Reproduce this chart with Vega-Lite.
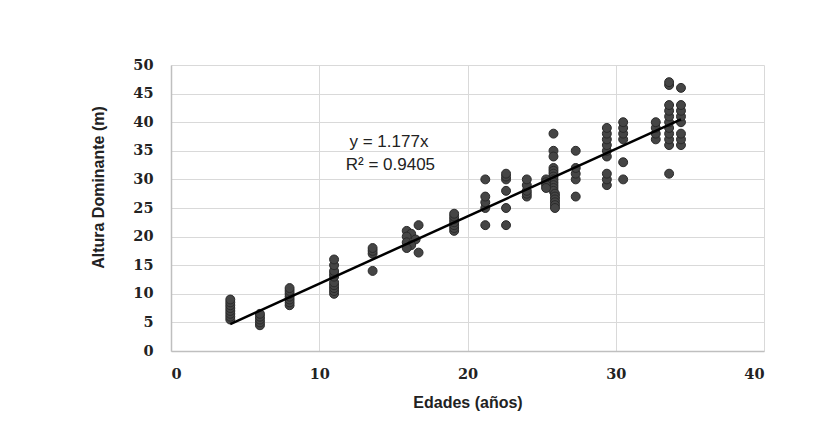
{
  "$schema": "https://vega.github.io/schema/vega-lite/v6.json",
  "autosize": {"type": "none"},
  "padding": {"left": 171, "top": 65, "right": 75, "bottom": 90},
  "width": 593,
  "height": 286,
  "background": "white",
  "config": {
    "view": {"stroke": null},
    "axis": {
      "gridColor": "#d9d9d9",
      "gridWidth": 1,
      "domainColor": "#bfbfbf",
      "domainWidth": 1.5,
      "ticks": false,
      "labelFont": "DejaVu Serif",
      "labelFontWeight": "bold",
      "labelFontSize": 14.5,
      "labelColor": "#222222",
      "labelOverlap": false,
      "titleFont": "Liberation Sans",
      "titleFontWeight": "bold",
      "titleFontSize": 16,
      "titleColor": "#222222"
    }
  },
  "datasets": {
    "pts": [
      {"edad": 4, "altura": 5.5}, {"edad": 4, "altura": 6}, {"edad": 4, "altura": 6.5}, {"edad": 4, "altura": 7}, {"edad": 4, "altura": 7.5}, {"edad": 4, "altura": 8}, {"edad": 4, "altura": 8.5}, {"edad": 4, "altura": 9},
      {"edad": 6, "altura": 4.5}, {"edad": 6, "altura": 5}, {"edad": 6, "altura": 5.5}, {"edad": 6, "altura": 6}, {"edad": 6, "altura": 6.5},
      {"edad": 8, "altura": 8}, {"edad": 8, "altura": 8.5}, {"edad": 8, "altura": 9}, {"edad": 8, "altura": 9.5}, {"edad": 8, "altura": 10}, {"edad": 8, "altura": 10.5}, {"edad": 8, "altura": 11},
      {"edad": 11, "altura": 10}, {"edad": 11, "altura": 10.5}, {"edad": 11, "altura": 11}, {"edad": 11, "altura": 11.5}, {"edad": 11, "altura": 12}, {"edad": 11, "altura": 13}, {"edad": 11, "altura": 13.5}, {"edad": 11, "altura": 14}, {"edad": 11, "altura": 15}, {"edad": 11, "altura": 16},
      {"edad": 13.6, "altura": 14}, {"edad": 13.6, "altura": 17}, {"edad": 13.6, "altura": 17.5}, {"edad": 13.6, "altura": 18},
      {"edad": 15.9, "altura": 21}, {"edad": 16.7, "altura": 22}, {"edad": 16.2, "altura": 20.5}, {"edad": 15.9, "altura": 20}, {"edad": 16.5, "altura": 19.5}, {"edad": 15.9, "altura": 19}, {"edad": 16.2, "altura": 18.5}, {"edad": 15.9, "altura": 18}, {"edad": 16.7, "altura": 17.2},
      {"edad": 19.1, "altura": 21}, {"edad": 19.1, "altura": 21.5}, {"edad": 19.1, "altura": 22}, {"edad": 19.1, "altura": 22.5}, {"edad": 19.1, "altura": 23}, {"edad": 19.1, "altura": 23.5}, {"edad": 19.1, "altura": 24},
      {"edad": 21.2, "altura": 22}, {"edad": 21.2, "altura": 25}, {"edad": 21.2, "altura": 26}, {"edad": 21.2, "altura": 27}, {"edad": 21.2, "altura": 30},
      {"edad": 22.6, "altura": 22}, {"edad": 22.6, "altura": 25}, {"edad": 22.6, "altura": 28}, {"edad": 22.6, "altura": 30}, {"edad": 22.6, "altura": 30.5}, {"edad": 22.6, "altura": 31},
      {"edad": 24, "altura": 27}, {"edad": 24, "altura": 27.5}, {"edad": 24, "altura": 28}, {"edad": 24, "altura": 29}, {"edad": 24, "altura": 30},
      {"edad": 25.8, "altura": 38}, {"edad": 25.8, "altura": 35}, {"edad": 25.8, "altura": 34}, {"edad": 25.8, "altura": 32}, {"edad": 25.8, "altura": 31.5}, {"edad": 25.8, "altura": 31}, {"edad": 25.8, "altura": 30.5}, {"edad": 25.8, "altura": 30}, {"edad": 25.8, "altura": 29.5}, {"edad": 25.8, "altura": 29}, {"edad": 25.8, "altura": 28.5}, {"edad": 25.8, "altura": 28}, {"edad": 25.9, "altura": 27.5}, {"edad": 25.9, "altura": 27}, {"edad": 25.9, "altura": 26.5}, {"edad": 25.9, "altura": 26}, {"edad": 25.9, "altura": 25.5}, {"edad": 25.9, "altura": 25},
      {"edad": 25.3, "altura": 30}, {"edad": 25.3, "altura": 29.5}, {"edad": 25.3, "altura": 29}, {"edad": 25.3, "altura": 28.5},
      {"edad": 27.3, "altura": 27}, {"edad": 27.3, "altura": 30}, {"edad": 27.3, "altura": 31}, {"edad": 27.3, "altura": 32}, {"edad": 27.3, "altura": 35},
      {"edad": 29.4, "altura": 29}, {"edad": 29.4, "altura": 30}, {"edad": 29.4, "altura": 31}, {"edad": 29.4, "altura": 34}, {"edad": 29.4, "altura": 35}, {"edad": 29.4, "altura": 36}, {"edad": 29.4, "altura": 37}, {"edad": 29.4, "altura": 38}, {"edad": 29.4, "altura": 39},
      {"edad": 30.5, "altura": 30}, {"edad": 30.5, "altura": 33}, {"edad": 30.5, "altura": 37}, {"edad": 30.5, "altura": 38}, {"edad": 30.5, "altura": 39}, {"edad": 30.5, "altura": 40},
      {"edad": 32.7, "altura": 37}, {"edad": 32.7, "altura": 38}, {"edad": 32.7, "altura": 39}, {"edad": 32.7, "altura": 40},
      {"edad": 33.6, "altura": 31}, {"edad": 33.6, "altura": 36}, {"edad": 33.6, "altura": 37}, {"edad": 33.6, "altura": 38}, {"edad": 33.6, "altura": 39}, {"edad": 33.6, "altura": 40}, {"edad": 33.6, "altura": 41}, {"edad": 33.6, "altura": 42}, {"edad": 33.6, "altura": 43}, {"edad": 33.6, "altura": 46.5}, {"edad": 33.6, "altura": 47},
      {"edad": 34.4, "altura": 36}, {"edad": 34.4, "altura": 37}, {"edad": 34.4, "altura": 38}, {"edad": 34.4, "altura": 40}, {"edad": 34.4, "altura": 41}, {"edad": 34.4, "altura": 42}, {"edad": 34.4, "altura": 43}, {"edad": 34.4, "altura": 46}
    ],
    "linea": [
      {"edad": 4, "altura": 4.7},
      {"edad": 34.4, "altura": 40.5}
    ],
    "texto": [
      {"edad": 14.7, "altura": 36.5, "label": "y = 1.177x"},
      {"edad": 14.8, "altura": 32.6, "label": "R² = 0.9405"}
    ]
  },
  "encoding": {
    "x": {
      "field": "edad", "type": "quantitative",
      "scale": {"domain": [0, 40], "nice": false, "zero": true},
      "axis": {"values": [0, 10, 20, 30, 40], "title": "Edades (años)", "labelPadding": 16, "titlePadding": 14, "grid": true}
    },
    "y": {
      "field": "altura", "type": "quantitative",
      "scale": {"domain": [0, 50], "nice": false},
      "axis": {"values": [0, 5, 10, 15, 20, 25, 30, 35, 40, 45, 50], "title": "Altura Dominante (m)", "labelPadding": 18, "titleX": -73, "titleY": 122, "titleAlign": "center", "titleBaseline": "middle", "titleAngle": 270, "grid": true}
    }
  },
  "layer": [
    {
      "data": {"name": "pts"},
      "mark": {"type": "circle", "size": 80, "fill": "#454545", "stroke": "#2a2a2a", "strokeWidth": 1, "opacity": 1}
    },
    {
      "data": {"name": "linea"},
      "mark": {"type": "line", "color": "#000000", "strokeWidth": 2.5}
    },
    {
      "data": {"name": "texto"},
      "mark": {"type": "text", "font": "Liberation Sans", "fontSize": 17, "color": "#222222", "align": "center", "baseline": "middle"},
      "encoding": {
        "text": {"field": "label"}
      }
    }
  ]
}
